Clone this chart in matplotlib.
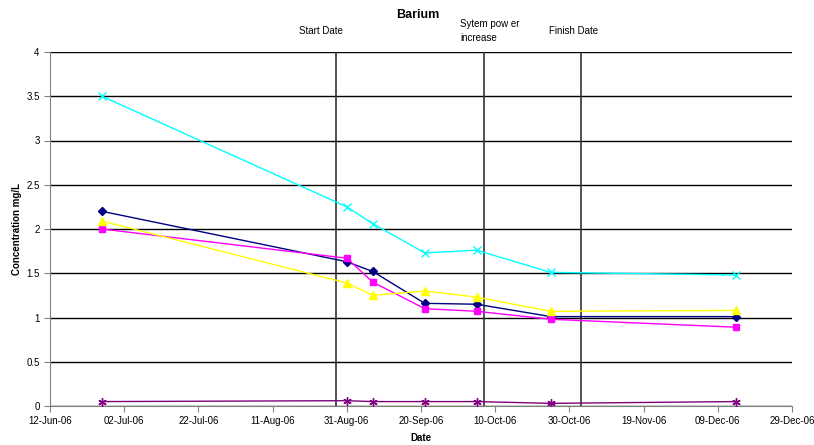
import matplotlib
matplotlib.use("Agg")
from matplotlib import pyplot as plt
import matplotlib.dates as mdates
import numpy as np
from datetime import datetime, timedelta

plt.rcParams['font.family'] = ['Liberation Sans', 'DejaVu Sans']

# sampling dates
dates = [datetime(2006, 6, 26), datetime(2006, 8, 31), datetime(2006, 9, 7),
         datetime(2006, 9, 21), datetime(2006, 10, 5), datetime(2006, 10, 25),
         datetime(2006, 12, 14)]

# barium concentrations (mg/L) per sampling point
navy_vals = [2.20, 1.63, 1.52, 1.16, 1.15, 1.01, 1.01]
magenta_vals = [2.00, 1.67, 1.40, 1.10, 1.07, 0.98, 0.89]
yellow_vals = [2.09, 1.39, 1.25, 1.30, 1.23, 1.07, 1.08]
cyan_vals = [3.50, 2.25, 2.06, 1.73, 1.76, 1.51, 1.48]
purple_vals = [0.05, 0.06, 0.05, 0.05, 0.05, 0.03, 0.05]

events = [datetime(2006, 8, 28), datetime(2006, 10, 7), datetime(2006, 11, 2)]
event_labels = ["Start Date", "Sytem pow er\nincrease", "Finish Date"]
# label placement: days left of the line, height above the top of the axis
event_shift = [10, 6.5, 8.5]
event_y = [4.18, 4.1, 4.18]

fig = plt.figure(figsize=(8.14, 4.45), dpi=100)
ax = fig.add_axes([50/814, 1-406/445, 742/814, 354/445])

ax.set_ylim(0, 4)
ax.set_yticks(np.arange(0, 4.01, 0.5))
ax.set_yticklabels(["0", "0.5", "1", "1.5", "2", "2.5", "3", "3.5", "4"])
ax.yaxis.grid(True, color="black", linewidth=1.0)
ax.set_axisbelow(True)

for d in events:
    ax.axvline(d, color="#333333", linewidth=1.2, zorder=1)

ax.plot(dates, navy_vals, color="#000080", marker="D", markersize=4, linewidth=1, zorder=3)
ax.plot(dates, magenta_vals, color="#ff00ff", marker="s", markersize=5, linewidth=1, zorder=3)
ax.plot(dates, yellow_vals, color="#ffff00", marker="^", markersize=6, linewidth=1, zorder=3)
ax.plot(dates, cyan_vals, color="#00ffff", marker="x", markersize=6, linewidth=1, zorder=3)
ax.plot(dates, purple_vals, color="#800080", marker=(6, 2, 0), markersize=6, linewidth=1, zorder=3)

start = datetime(2006, 6, 12)
ax.set_xlim(start, start + timedelta(days=200))
ax.set_xticks([start + timedelta(days=20*i) for i in range(11)])
ax.xaxis.set_major_formatter(mdates.DateFormatter("%d-%b-%y"))

for s in ["top", "right"]:
    ax.spines[s].set_visible(False)
for s in ["left", "bottom"]:
    ax.spines[s].set_color("#808080")
ax.tick_params(axis="both", labelsize=7, length=4, direction="out", color="#808080")

ax.set_xlabel("Date", fontsize=7, fontweight="bold", labelpad=5)
ax.set_ylabel("Concentration mg/L", fontsize=7, fontweight="bold")
ax.yaxis.set_label_coords(-(50-22)/742, 0.5)
fig.text(418/814, 1-15/445, "Barium", fontsize=9, fontweight="bold", ha="center", va="center")

for d, lab, sh, yy in zip(events, event_labels, event_shift, event_y):
    ax.text(d - timedelta(days=sh), yy, lab, fontsize=7, ha="left", va="bottom",
            linespacing=1.5, clip_on=False)

fig.savefig("out.png", dpi=100)
